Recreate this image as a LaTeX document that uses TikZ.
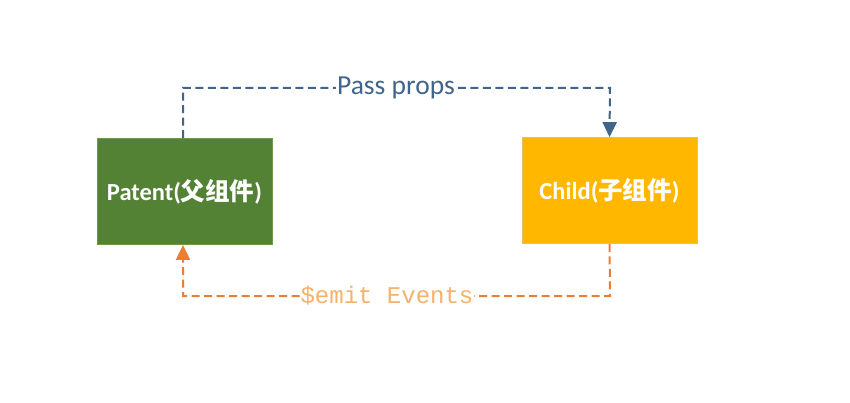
\documentclass[tikz,border=0pt]{standalone}
\usepackage{fontspec}
\setmainfont{Carlito}
\setmonofont{Liberation Mono}
\newfontfamily\cjk{Noto Sans CJK SC}
\usetikzlibrary{arrows.meta}
\definecolor{pgreen}{HTML}{548235}
\definecolor{pgreenb}{HTML}{6A9A4A}
\definecolor{cyellow}{HTML}{FFB700}
\definecolor{cyellowb}{HTML}{E0C070}
\definecolor{lblue}{HTML}{41648A}
\definecolor{lorange}{HTML}{ED7D31}
\definecolor{torange}{HTML}{F6B26B}
\tikzset{
  box/.style={draw, line width=0.8pt, minimum width=175pt, minimum height=106pt, inner sep=0pt, text=white, font=\fontsize{24.5}{27}\selectfont\bfseries},
  flow/.style={dashed, dash pattern=on 8pt off 4.5pt, line width=2pt},
  tip/.style={-{Triangle[length=15pt,width=14pt]}},
  lbl/.style={fill=white, inner sep=1pt}
}
\begin{document}
\begin{tikzpicture}[x=1pt,y=-1pt]
\useasboundingbox (0,0) rectangle (850,403);
\node[box, fill=pgreen, draw=pgreenb] (p) at (184.5,191.5) {Patent({\cjk\bfseries 父组件})};
\node[box, fill=cyellow, draw=cyellowb] (c) at (609.5,190.5) {Child({\cjk\bfseries 子组件})};
\coordinate (t2) at (183,88);
\coordinate (t3) at (610,88);
\coordinate (b1) at (610,296);
\coordinate (b2) at (183,296);
\draw[flow, lblue, tip] ([xshift=-1.5pt]p.north) -- ([xshift=-1.5pt]p.north |- t2) -- (t3) -- (c.north);
\draw[flow, lorange, tip] (c.south) -- (b1) -- (b2) -- ([xshift=-1.5pt]p.south);
\node[lbl, text=lblue, font=\fontsize{27.5}{30}\selectfont] (pp) at (396,88) {Pass props};
\node[lbl, text=torange, font=\ttfamily\fontsize{24}{28}\selectfont] (em) at (387,296) {\$emit Events};
\end{tikzpicture}
\end{document}
